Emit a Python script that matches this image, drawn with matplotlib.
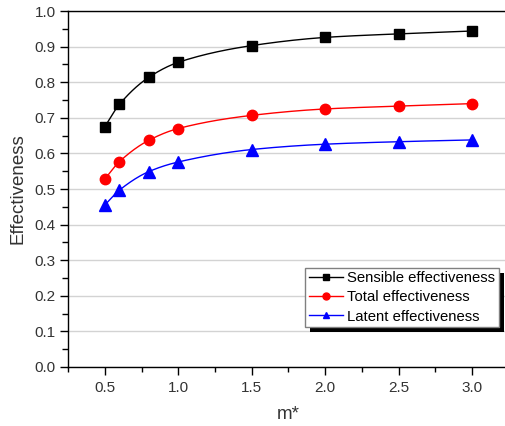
import numpy as np
from matplotlib import pyplot
from matplotlib.patches import Rectangle
from matplotlib.ticker import MultipleLocator

pyplot.rcParams["font.family"] = ["Liberation Sans", "DejaVu Sans"]

m_star = [0.5, 0.6, 0.8, 1.0, 1.5, 2.0, 2.5, 3.0]
sensible = [0.675, 0.738, 0.814, 0.856, 0.903, 0.926, 0.936, 0.944]
total = [0.528, 0.577, 0.637, 0.670, 0.707, 0.725, 0.733, 0.740]
latent = [0.455, 0.497, 0.549, 0.576, 0.611, 0.626, 0.633, 0.638]


def smooth(x, y, n=30):
    # monotone cubic (pchip) connector, only for drawing the line
    x = np.asarray(x, float)
    y = np.asarray(y, float)
    h = np.diff(x)
    d = np.diff(y) / h
    m = np.zeros_like(y)
    for k in range(1, len(x) - 1):
        if d[k - 1] * d[k] > 0:
            w1 = 2 * h[k] + h[k - 1]
            w2 = h[k] + 2 * h[k - 1]
            m[k] = (w1 + w2) / (w1 / d[k - 1] + w2 / d[k])
    m[0] = d[0]
    m[-1] = d[-1]
    xs, ys = [], []
    for k in range(len(x) - 1):
        t = np.linspace(0, 1, n, endpoint=False)
        h00 = 2 * t**3 - 3 * t**2 + 1
        h10 = t**3 - 2 * t**2 + t
        h01 = -2 * t**3 + 3 * t**2
        h11 = t**3 - t**2
        xs.append(x[k] + t * h[k])
        ys.append(h00 * y[k] + h10 * h[k] * m[k]
                  + h01 * y[k + 1] + h11 * h[k] * m[k + 1])
    xs.append([x[-1]])
    ys.append([y[-1]])
    return np.concatenate(xs), np.concatenate(ys)


fig = pyplot.figure(figsize=(5.05, 4.26), dpi=100)
ax = fig.add_axes([0.1347, 0.1385, 0.873, 0.8355])

series = [
    (sensible, "black", "s", 7, "Sensible effectiveness"),
    (total, "red", "o", 7.5, "Total effectiveness"),
    (latent, "blue", "^", 8, "Latent effectiveness"),
]
for values, color, marker, size, label in series:
    sx, sy = smooth(m_star, values)
    ax.plot(sx, sy, color=color, linewidth=1, zorder=3)
    ax.plot(m_star, values, linestyle="none", marker=marker,
            markersize=size, color=color, zorder=4)
    ax.plot([], [], color=color, linewidth=1, marker=marker,
            markersize=5, label=label)

ax.set_xlim(0.25, 3.25)
ax.set_ylim(0.0, 1.0)
ax.xaxis.set_major_locator(MultipleLocator(0.5))
ax.xaxis.set_minor_locator(MultipleLocator(0.25))
ax.yaxis.set_major_locator(MultipleLocator(0.1))
ax.yaxis.set_minor_locator(MultipleLocator(0.05))
ax.yaxis.grid(True, color="#d3d3d3", linewidth=1)
ax.set_axisbelow(True)

ax.tick_params(axis="both", which="both", direction="out",
               labelsize=11, labelcolor="#333333", width=1)
ax.tick_params(axis="y", which="major", length=6, pad=3)
ax.tick_params(axis="y", which="minor", length=4)
ax.tick_params(axis="x", which="major", length=6, pad=4)
ax.tick_params(axis="x", which="minor", length=3.5)
for side in ["left", "bottom", "top", "right"]:
    ax.spines[side].set_linewidth(1)

ax.set_xlabel("m*", fontsize=13.5, color="#333333", labelpad=8)
ax.set_ylabel("Effectiveness", fontsize=13.5, color="#333333", labelpad=6)

leg = ax.legend(
    loc="upper left",
    bbox_to_anchor=((305 - 68) / 441, 1 - (267.5 - 11) / 356),
    bbox_transform=ax.transAxes,
    fontsize=10.7,
    frameon=True,
    fancybox=False,
    edgecolor="#808080",
    framealpha=1,
    handlelength=2.3,
    handletextpad=0.3,
    borderpad=0.25,
    labelspacing=0.35,
    borderaxespad=0,
)
leg.get_frame().set_linewidth(1)
leg.set_zorder(6)

fig.canvas.draw()
bb = leg.get_window_extent()
ax.add_patch(Rectangle(
    (bb.x0 + 5, bb.y0 - 5), bb.width, bb.height,
    transform=None, facecolor="black", edgecolor="none", zorder=5,
    clip_on=False,
))

fig.savefig("out.png", dpi=100)
